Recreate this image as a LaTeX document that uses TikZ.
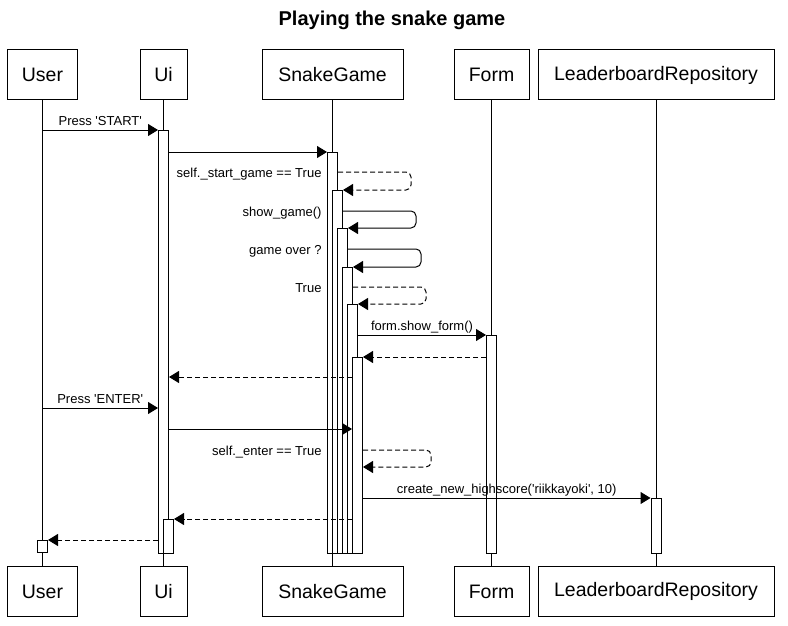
\documentclass[tikz,border=0pt]{standalone}
\usepackage{fontspec}
\setmainfont{Liberation Sans}
\usetikzlibrary{arrows.meta}

\begin{document}
\begin{tikzpicture}[x=1pt, y=-1pt, line width=1pt,
    box/.style={draw, fill=white, minimum height=50pt, inner sep=0pt, font=\fontsize{19.5}{23}\selectfont},
    bar/.style={draw, fill=white, minimum width=10pt, inner sep=0pt, anchor=north},
    msg/.style={font=\fontsize{13}{15}\selectfont, inner sep=0pt},
    over/.style={msg, anchor=base, yshift=5pt},
    side/.style={msg, anchor=base east, xshift=-5pt, yshift=-5pt},
    call/.style={-{Triangle[length=10pt, width=12pt]}},
    ret/.style={call, dash pattern=on 5pt off 3pt}]
  \useasboundingbox (0,0) rectangle (788,626);
  \node[font=\fontsize{20}{24}\selectfont\bfseries] (title) at (392,20) {Playing the snake game};

  \foreach \name/\x/\w/\txt in {user/42.5/70/User, ui/163.5/47/Ui, sg/332.5/141/SnakeGame,
      form/491.5/75/Form, lr/656/236/LeaderboardRepository} {
    \node[box, minimum width=\w pt] (\name) at (\x,75) {\txt};
    \node[box, minimum width=\w pt] (\name End) at (\x,591.5) {\txt};
    \draw (\name) -- (\name End);
  }

  % one row per message
  \foreach \r/\y in {1/130, 2/152, 3/172, 4/190, 5/211, 6/228, 7/249, 8/267, 9/287, 10/304,
      11/335, 12/357, 13/377, 14/408, 15/429, 16/450, 17/467, 18/498, 19/519, 20/540}
    \coordinate (r\r) at (0,\y);

  \node[bar, minimum height=423pt] (uiBar1) at (ui |- r1) {};
  \node[bar, minimum height=34pt] (uiBar2) at ([xshift=5pt]ui |- r19) {};
  \node[bar, minimum height=12pt] (userBar) at (user |- r20) {};
  \foreach \i/\r/\h in {1/2/401, 2/4/363, 3/6/325, 4/8/286, 5/10/249, 6/12/196}
    \node[bar, minimum height=\h pt] (sgBar\i) at ([xshift={(\i-1)*5pt}]sg |- r\r) {};
  \node[bar, minimum height=218pt] (formBar) at (form |- r11) {};
  \node[bar, minimum height=55pt] (lrBar) at (lr |- r18) {};

  \draw[call] (user |- r1) -- (uiBar1.north west)
    node[over, midway] {Press \textquotesingle START\textquotesingle};
  \draw[call] (uiBar1.east |- r2) -- (sgBar1.north west);
  \draw[ret, rounded corners=5pt] (sgBar1.east |- r3) -- ++(73,0) |- (sgBar2.north east);
  \node[side] (startLabel) at (sgBar1.west |- r3) {self.\_start\_game == True};
  \draw[call, rounded corners=5pt] (sgBar2.east |- r5) -- ++(73,0) |- (sgBar3.north east);
  \node[side] (showLabel) at (sgBar1.west |- r5) {show\_game()};
  \draw[call, rounded corners=5pt] (sgBar3.east |- r7) -- ++(73,0) |- (sgBar4.north east);
  \node[side] (overLabel) at (sgBar1.west |- r7) {game over ?};
  \draw[ret, rounded corners=5pt] (sgBar4.east |- r9) -- ++(73,0) |- (sgBar5.north east);
  \node[side] (trueLabel) at (sgBar1.west |- r9) {True};
  \draw[call] (sgBar5.east |- r11) -- (formBar.north west)
    node[over, midway] {form.show\_form()};
  \draw[ret] (formBar.west |- r12) -- (sgBar6.north east);
  \draw[ret] (sgBar6.west |- r13) -- (uiBar1.east |- r13);
  \draw[call] (user |- r14) -- (uiBar1.west |- r14)
    node[over, midway] {Press \textquotesingle ENTER\textquotesingle};
  \draw[call] (uiBar1.east |- r15) -- (sgBar6.west |- r15);
  \draw[ret, rounded corners=5pt] (sgBar6.east |- r16) -- ++(68,0) |- (sgBar6.east |- r17);
  \node[side] (enterLabel) at (sgBar1.west |- r16) {self.\_enter == True};
  \draw[call] (sgBar6.east |- r18) -- (lrBar.north west)
    node[over, midway] {create\_new\_highscore(\textquotesingle riikkayoki\textquotesingle, 10)};
  \draw[ret] (sgBar6.west |- r19) -- (uiBar2.north east);
  \draw[ret] (uiBar1.west |- r20) -- (userBar.north east);
\end{tikzpicture}
\end{document}
